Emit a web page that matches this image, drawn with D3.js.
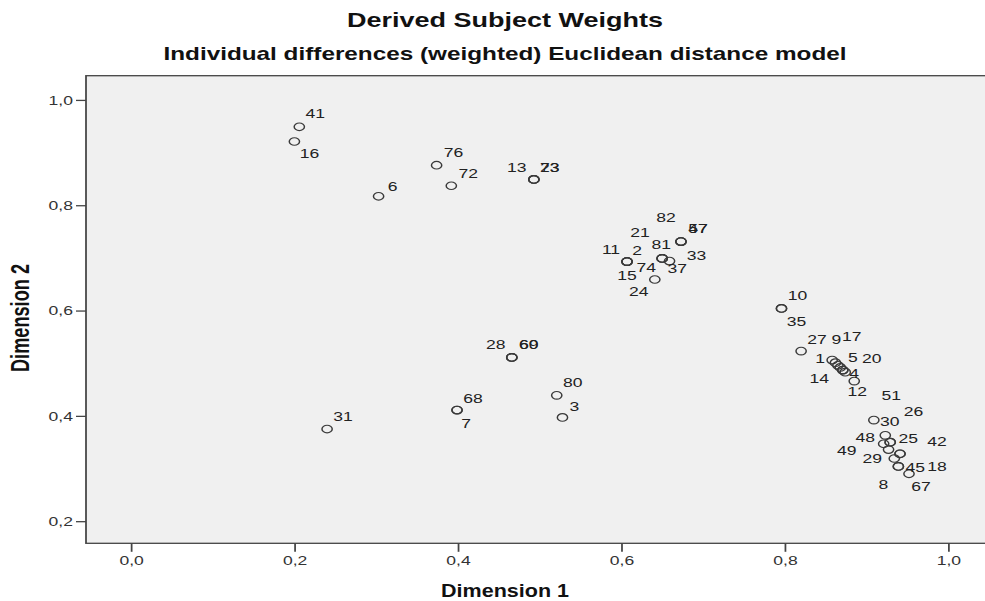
<!DOCTYPE html>
<html>
<head>
<meta charset="utf-8">
<script src="https://cdn.jsdelivr.net/npm/d3@7/dist/d3.min.js"></script>
<style>
  html, body { margin: 0; padding: 0; background: #fff; overflow: hidden; }
  svg { display: block; }
</style>
</head>
<body>
<svg id="chart"></svg>
<script>
// Subject numbers and their derived weights on the two dimensions
const subjects = ["41","16","76","72","6","13","23","73","31",
  "11","2","15","21","81","37","74","33","57","47","82","24",
  "10","35","27","1","9","5","14","17","20","4","12",
  "30","48","49","25","51","26","42","18","29","45","8","67",
  "28","60","69","68","7","80","3"];
const dim1 = [0.206,0.200,0.374,0.392,0.303,0.493,0.493,0.493,0.240,
  0.607,0.607,0.607,0.607,0.650,0.650,0.650,0.659,0.673,0.673,0.673,0.641,
  0.796,0.796,0.820,0.858,0.862,0.865,0.868,0.871,0.871,0.874,0.885,
  0.909,0.923,0.921,0.929,0.929,0.927,0.941,0.941,0.934,0.939,0.939,0.952,
  0.466,0.466,0.466,0.399,0.399,0.521,0.528];
const dim2 = [0.949,0.921,0.876,0.837,0.817,0.849,0.849,0.849,0.375,
  0.693,0.693,0.693,0.693,0.699,0.699,0.699,0.694,0.731,0.731,0.731,0.659,
  0.604,0.604,0.523,0.506,0.501,0.496,0.492,0.487,0.487,0.483,0.466,
  0.392,0.363,0.347,0.350,0.350,0.336,0.328,0.328,0.319,0.304,0.304,0.290,
  0.511,0.511,0.511,0.411,0.411,0.439,0.397];

const xTicks = [0, 0.2, 0.4, 0.6, 0.8, 1.0];
const yTicks = [0.2, 0.4, 0.6, 0.8, 1.0];
const titleLines = ["Derived Subject Weights",
  "Individual differences (weighted) Euclidean distance model"];
const xTitle = "Dimension 1";
const yTitle = "Dimension 2";

// Where each point label sits: centre of the label relative to its marker (page px)
const labelOffset = {
  "41":[16,-13],"16":[15,12],"76":[17,-13],"72":[17,-12],"6":[14,-10],
  "13":[-17,-12],"23":[16,-12],"73":[16,-12],"31":[16,-13],
  "11":[-16,-12],"2":[10,-11],"15":[0,14],"21":[13,-29],
  "81":[-1,-14],"37":[15,10],"74":[-16,9],"33":[27,-6],
  "57":[17,-13],"47":[17,-13],"82":[-15,-24],"24":[-16,12],
  "10":[16,-13],"35":[15,13],"27":[16,-12],
  "1":[-12,-2],"9":[1,-23],"5":[15,-8],"14":[-21,11],"17":[9,-34],"20":[29,-12],
  "4":[9,1],"12":[3,10],
  "30":[16,1],"48":[-20,2],"49":[-37,7],"25":[18,-4],"51":[1,-47],"26":[25,-38],
  "42":[37,-12],"18":[37,13],"29":[-22,0],"45":[17,1],"8":[-15,18],"67":[12,13],
  "28":[-16,-13],"60":[17,-13],"69":[17,-13],"68":[16,-12],"7":[9,13],
  "80":[16,-13],"3":[12,-11]
};

// The chart is laid out on a narrower canvas and stretched to the page width.
const pageW = 985, pageH = 601;
const S = 1.35;                      // horizontal stretch
const W = pageW / S;
const px = v => v / S;               // page px (horizontal) -> canvas units

const plot = { left: px(86), right: px(985), top: 75.7, bottom: 543.3 };

const svg = d3.select("#chart")
  .attr("width", pageW).attr("height", pageH)
  .attr("viewBox", `0 0 ${W} ${pageH}`)
  .attr("preserveAspectRatio", "none");

const x = d3.scaleLinear().domain([-0.055, 1.045]).range([plot.left, plot.right]);
const y = d3.scaleLinear().domain([0.158, 1.046]).range([plot.bottom, plot.top]);

const fmt = d => d.toFixed(1).replace(".", ",");
const FONT = "'Liberation Sans', Arial, Helvetica, sans-serif";
const NARROW = "'Liberation Sans Narrow', 'Arial Narrow', 'Liberation Sans', sans-serif";
const axisColor = "#444";

// plotting area
svg.append("rect")
  .attr("x", plot.left).attr("y", plot.top)
  .attr("width", px(1010) - plot.left).attr("height", plot.bottom - plot.top)
  .attr("fill", "#f0f0f0").attr("stroke", axisColor).attr("stroke-width", 1.3);

// axes
const gx = svg.append("g")
  .attr("transform", `translate(0,${plot.bottom})`)
  .call(d3.axisBottom(x).tickValues(xTicks).tickFormat(fmt)
    .tickSize(8.5).tickSizeOuter(0).tickPadding(4));
const gy = svg.append("g")
  .attr("transform", `translate(${plot.left},0)`)
  .call(d3.axisLeft(y).tickValues(yTicks).tickFormat(fmt)
    .tickSize(px(10)).tickSizeOuter(0).tickPadding(px(3)));
[gx, gy].forEach(g => {
  g.select(".domain").remove();
  g.selectAll(".tick line").attr("stroke", axisColor).attr("stroke-width", 1.3);
  g.selectAll(".tick text").attr("fill", "#333")
    .style("font-family", FONT).style("font-size", "13px");
});

// titles
svg.append("g").selectAll("text").data(titleLines).join("text")
  .attr("x", px(505)).attr("y", (d, i) => i === 0 ? 27 : 60)
  .attr("text-anchor", "middle")
  .style("font-family", FONT).style("font-size", (d, i) => i === 0 ? "20px" : "18px")
  .style("font-weight", "bold")
  .attr("fill", "#111").text(d => d);

// axis titles in a condensed bold face
svg.append("text")
  .attr("x", px(505)).attr("y", 597)
  .attr("text-anchor", "middle")
  .attr("textLength", px(128)).attr("lengthAdjust", "spacingAndGlyphs")
  .style("font-family", NARROW).style("font-size", "19px").style("font-weight", "bold")
  .attr("fill", "#111").text(xTitle);

svg.append("text")
  .attr("transform", `translate(${px(29)},318) rotate(-90)`)
  .attr("text-anchor", "middle")
  .attr("textLength", 108).attr("lengthAdjust", "spacingAndGlyphs")
  .style("font-family", NARROW).style("font-size", "19px").style("font-weight", "bold")
  .attr("fill", "#111").text(yTitle);

// points
const points = subjects.map((id, i) => ({ id, d1: dim1[i], d2: dim2[i] }));

svg.append("g").selectAll("circle").data(points).join("circle")
  .attr("cx", d => x(d.d1)).attr("cy", d => y(d.d2))
  .attr("r", 3.8)
  .attr("fill", "none").attr("stroke", "#3a3a3a").attr("stroke-width", 1.1);

svg.append("g").selectAll("text").data(points).join("text")
  .attr("x", d => x(d.d1) + px((labelOffset[d.id] || [14, -12])[0]))
  .attr("y", d => y(d.d2) + (labelOffset[d.id] || [14, -12])[1])
  .attr("text-anchor", "middle").attr("dominant-baseline", "central")
  .style("font-family", FONT).style("font-size", "13px")
  .attr("fill", "#222").text(d => d.id);
</script>
</body>
</html>
